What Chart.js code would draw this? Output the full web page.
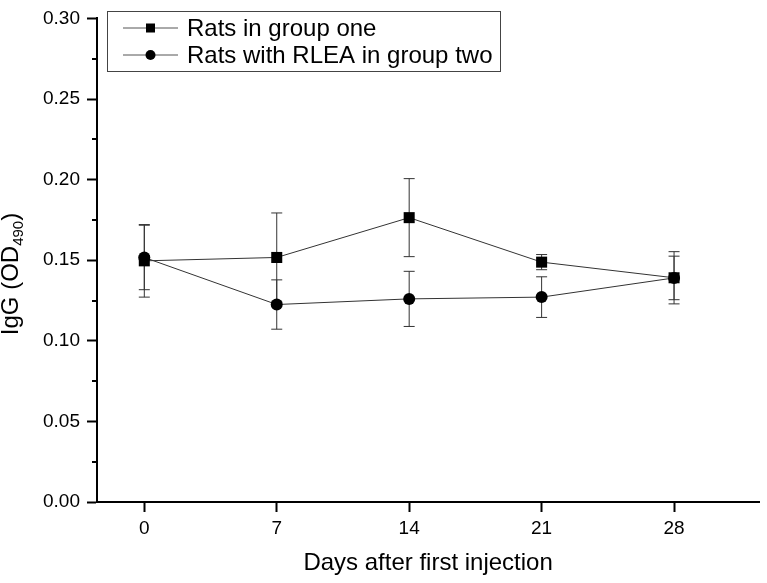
<!DOCTYPE html>
<html lang="en">
<head>
    <meta charset="UTF-8">
    <title>IgG after first injection</title>
    <script src="https://cdn.jsdelivr.net/npm/chart.js"></script>
    <style>
        body { margin: 0; padding: 0; background: #fff; }
        .wrap { width: 767px; height: 583px; }
    </style>
</head>
<body>
    <div class="wrap"><canvas id="igChart" width="767" height="583"></canvas></div>

    <script>
        // data
        const days = [0, 7, 14, 21, 28];
        const groupOne = [0.1496, 0.1517, 0.1764, 0.1488, 0.1391];
        const groupOneErr = [0.0225, 0.0276, 0.0242, 0.0047, 0.0162];
        const groupTwo = [0.1517, 0.1225, 0.1260, 0.1271, 0.1390];
        const groupTwoErr = [0.0200, 0.0153, 0.0171, 0.0126, 0.0135];
        const seriesLabels = ['Rats in group one', 'Rats with RLEA in group two'];

        const FONT = '"Liberation Sans", Arial, sans-serif';

        function isMajor(v) {
            return Math.round(v * 1000) % 50 === 0;
        }

        // error bars, drawn under the markers
        const errorBars = {
            id: 'errorBars',
            beforeDatasetsDraw(chart) {
                const ctx = chart.ctx;
                const xs = chart.scales.x, ys = chart.scales.y;
                ctx.save();
                ctx.strokeStyle = '#333';
                ctx.lineWidth = 1;
                chart.data.datasets.forEach(ds => {
                    ds.data.forEach(p => {
                        const x = xs.getPixelForValue(p.x);
                        const top = ys.getPixelForValue(p.y + p.err);
                        const bot = ys.getPixelForValue(p.y - p.err);
                        ctx.beginPath();
                        ctx.moveTo(x, top); ctx.lineTo(x, bot);
                        ctx.moveTo(x - 5.5, top); ctx.lineTo(x + 5.5, top);
                        ctx.moveTo(x - 5.5, bot); ctx.lineTo(x + 5.5, bot);
                        ctx.stroke();
                    });
                });
                ctx.restore();
            }
        };

        // short minor ticks on the y axis, legend box and y title
        const extras = {
            id: 'extras',
            afterDraw(chart) {
                const ctx = chart.ctx;
                const ys = chart.scales.y;
                const area = chart.chartArea;
                ctx.save();

                ctx.strokeStyle = '#000';
                ctx.lineWidth = 2;
                ys.ticks.forEach(t => {
                    if (isMajor(t.value)) return;
                    const y = Math.round(ys.getPixelForValue(t.value));
                    ctx.beginPath();
                    ctx.moveTo(area.left - 5, y);
                    ctx.lineTo(area.left, y);
                    ctx.stroke();
                });

                // legend
                const bx = 107.5, by = 11.5, bw = 393, bh = 60;
                ctx.lineWidth = 1;
                ctx.strokeStyle = '#444';
                ctx.strokeRect(bx, by, bw, bh);
                const rows = [28, 55];
                chart.data.datasets.forEach((ds, i) => {
                    const y = rows[i];
                    ctx.strokeStyle = '#555';
                    ctx.lineWidth = 1;
                    ctx.beginPath();
                    ctx.moveTo(123, y); ctx.lineTo(178, y);
                    ctx.stroke();
                    ctx.fillStyle = '#000';
                    if (ds.pointStyle === 'rect') {
                        ctx.fillRect(146, y - 4.5, 9, 9);
                    } else {
                        ctx.beginPath();
                        ctx.arc(150.5, y, 5, 0, Math.PI * 2);
                        ctx.fill();
                    }
                    ctx.font = '24px ' + FONT;
                    ctx.textBaseline = 'middle';
                    ctx.textAlign = 'left';
                    ctx.fillText(ds.label, 187, y + 1);
                });

                // y axis title with subscript
                ctx.translate(18, 274);
                ctx.rotate(-Math.PI / 2);
                ctx.fillStyle = '#000';
                ctx.textBaseline = 'alphabetic';
                ctx.textAlign = 'left';
                const big = '24px ' + FONT, small = '15px ' + FONT;
                ctx.font = big;
                const a = 'IgG (OD', c = ')';
                const wa = ctx.measureText(a).width;
                ctx.font = small;
                const wb = ctx.measureText('490').width;
                ctx.font = big;
                const wc = ctx.measureText(c).width;
                let x0 = -(wa + wb + wc) / 2;
                ctx.fillText(a, x0, 0);
                ctx.font = small;
                ctx.fillText('490', x0 + wa, 5);
                ctx.font = big;
                ctx.fillText(c, x0 + wa + wb, 0);

                ctx.restore();
            }
        };

        new Chart(document.getElementById('igChart'), {
            type: 'line',
            data: {
                datasets: [
                    {
                        label: seriesLabels[0],
                        data: days.map((d, i) => ({ x: d, y: groupOne[i], err: groupOneErr[i] })),
                        borderColor: '#333',
                        borderWidth: 1,
                        pointStyle: 'rect',
                        pointRadius: 7.8,
                        pointBackgroundColor: '#000',
                        pointBorderColor: '#000',
                        pointBorderWidth: 0,
                        tension: 0
                    },
                    {
                        label: seriesLabels[1],
                        data: days.map((d, i) => ({ x: d, y: groupTwo[i], err: groupTwoErr[i] })),
                        borderColor: '#333',
                        borderWidth: 1,
                        pointStyle: 'circle',
                        pointRadius: 6,
                        pointBackgroundColor: '#000',
                        pointBorderColor: '#000',
                        pointBorderWidth: 0,
                        tension: 0
                    }
                ]
            },
            options: {
                responsive: false,
                animation: false,
                clip: false,
                layout: { padding: { top: 14, right: 5, left: 0, bottom: 0 } },
                plugins: {
                    legend: { display: false },
                    tooltip: { enabled: false }
                },
                scales: {
                    x: {
                        type: 'linear',
                        min: -2.5,
                        max: 32.5,
                        afterBuildTicks: scale => { scale.ticks = days.map(v => ({ value: v })); },
                        afterFit: scale => { scale.height = 81; },
                        grid: { drawOnChartArea: false, tickLength: 10, tickWidth: 2, tickColor: '#000' },
                        border: { color: '#000', width: 2 },
                        ticks: { color: '#000', font: { family: FONT, size: 19 }, padding: 5, maxRotation: 0 },
                        title: {
                            display: true,
                            text: 'Days after first injection',
                            color: '#000',
                            font: { family: FONT, size: 24 },
                            padding: { top: 0, bottom: 5 }
                        }
                    },
                    y: {
                        min: 0,
                        max: 0.3,
                        afterFit: scale => { scale.width = 97; },
                        grid: {
                            drawOnChartArea: false,
                            tickLength: 10,
                            tickWidth: 2,
                            tickColor: ctx => isMajor(ctx.tick.value) ? '#000' : 'rgba(0,0,0,0)'
                        },
                        border: { color: '#000', width: 2 },
                        ticks: {
                            stepSize: 0.025,
                            color: '#000',
                            font: { family: FONT, size: 19 },
                            padding: 7,
                            callback: v => isMajor(v) ? v.toFixed(2) : ''
                        }
                    }
                }
            },
            plugins: [errorBars, extras]
        });
    </script>
</body>
</html>
